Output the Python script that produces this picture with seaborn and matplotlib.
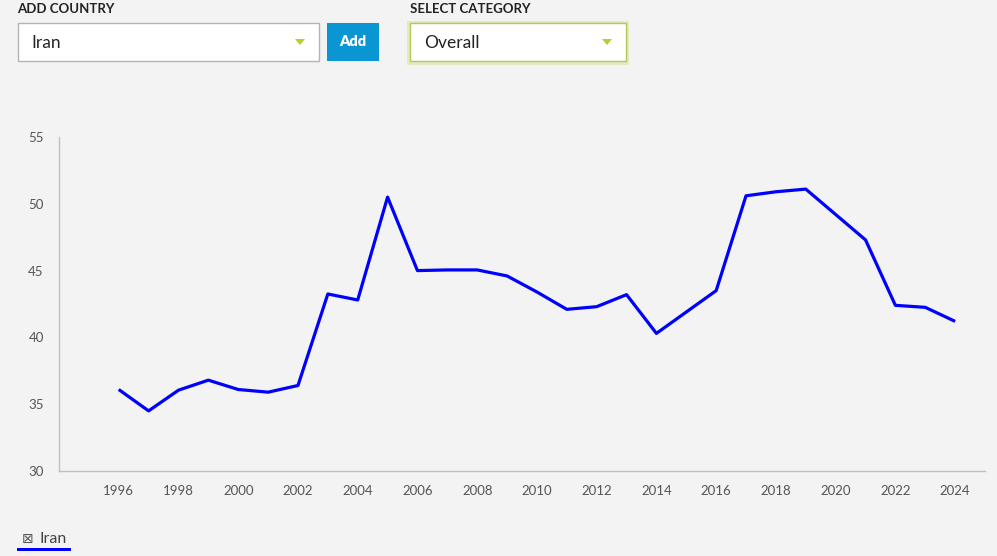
import matplotlib
matplotlib.use("Agg")
import matplotlib.pyplot as plt
import seaborn as sns
import pandas as pd
from matplotlib.patches import Rectangle, Polygon

# ---- data ----
years = list(range(1996, 2025))
values = [36.1, 34.5, 36.05, 36.8, 36.1, 35.9, 36.4, 43.25, 42.8, 50.5,
          45.0, 45.05, 45.05, 44.6, 43.4, 42.1, 42.3, 43.2, 40.3, 41.9,
          43.5, 50.6, 50.9, 51.1, 49.2, 47.3, 42.4, 42.25, 41.2]
country = "Iran"
category = "Overall"
y_ticks = [30, 35, 40, 45, 50, 55]
x_ticks = list(range(1996, 2025, 2))

df = pd.DataFrame({"Year": years, "Score": values, "Country": country})

W, H = 997, 556
BG = "#f3f3f3"
sns.set_style("white")
plt.rcParams["font.family"] = ["Lato", "DejaVu Sans"]

fig = plt.figure(figsize=(W / 100, H / 100), dpi=100, facecolor=BG)

def fx(x):
    return x / W

def fy(y):
    return 1 - y / H

# axes placement (pixel coordinates of the reference)
left, right, top, bottom = 59, 985, 137, 471
ax = fig.add_axes([fx(left), fy(bottom), fx(right - left), (bottom - top) / H])
ax.set_facecolor(BG)

sns.lineplot(data=df, x="Year", y="Score", ax=ax, color="#0000ff",
             linewidth=2.3, legend=False)
ax.lines[0].set_solid_joinstyle("round")
ax.lines[0].set_solid_capstyle("butt")

ax.set_xlim(1994, 2025)
ax.set_ylim(30, 55)
ax.set_xticks(x_ticks)
ax.set_xticklabels([str(t) for t in x_ticks])
ax.set_xticks([1994, 2025], minor=True)
ax.set_yticks(y_ticks)
ax.set_yticklabels([str(t) for t in y_ticks])
ax.set_xlabel("")
ax.set_ylabel("")

for s in ["top", "right"]:
    ax.spines[s].set_visible(False)
for s in ["left", "bottom"]:
    ax.spines[s].set_color("#c0c0c0")
    ax.spines[s].set_linewidth(1.0)

ax.tick_params(axis="x", which="both", direction="out", length=6, width=1,
               color="#c8c8c8", labelsize=9.5, labelcolor="#555555", pad=4)
ax.tick_params(axis="y", which="major", direction="out", length=6, width=1,
               color="#d8d8d8", labelsize=9.5, labelcolor="#555555", pad=5)
ax.grid(False)

# ---- top controls ----
def rect(x0, y0, x1, y1, fc, ec, lw=1.0, z=2):
    r = Rectangle((fx(x0), fy(y1)), fx(x1 - x0), (y1 - y0) / H,
                  transform=fig.transFigure, facecolor=fc, edgecolor=ec,
                  linewidth=lw, zorder=z)
    fig.add_artist(r)

def tri(cx, cy, color):
    pts = [(fx(cx - 5), fy(cy - 3)), (fx(cx + 5), fy(cy - 3)), (fx(cx), fy(cy + 3))]
    fig.add_artist(Polygon(pts, closed=True, transform=fig.transFigure,
                           facecolor=color, edgecolor="none", zorder=3))

fig.text(fx(17), fy(9), "ADD COUNTRY", fontsize=9.5, fontweight="bold",
         color="#222222", ha="left", va="center")
fig.text(fx(410), fy(9), "SELECT CATEGORY", fontsize=9.5, fontweight="bold",
         color="#222222", ha="left", va="center")

# country dropdown
rect(17.5, 23.5, 318.5, 60.5, "#ffffff", "#b4b4b4")
fig.text(fx(31), fy(43), country, fontsize=12.5, color="#222222",
         ha="left", va="center")
tri(300, 42, "#b5cf2c")

# add button
rect(327, 23, 379, 61, "#0a95d3", "none")
fig.text(fx(353), fy(42), "Add", fontsize=10.5, fontweight="heavy",
         color="#ffffff", ha="center", va="center")

# category dropdown (with soft glow)
rect(407.5, 21.5, 626.5, 62.5, "none", "#e3eab9", lw=2.0, z=1)
rect(409.5, 23.5, 625.5, 60.5, "#ffffff", "#b7c659")
fig.text(fx(424), fy(43), category, fontsize=12.5, color="#222222",
         ha="left", va="center")
tri(607, 42, "#b5cf2c")

# ---- legend ----
fig.text(fx(22), fy(539), "\u22a0", fontsize=10, color="#555555",
         family=["DejaVu Sans"], ha="left", va="center")
fig.text(fx(39), fy(539), country, fontsize=11.5, color="#444444",
         ha="left", va="center")
rect(17, 548, 71, 551, "#0000ff", "none")

fig.savefig("out.png", dpi=100, facecolor=BG)
